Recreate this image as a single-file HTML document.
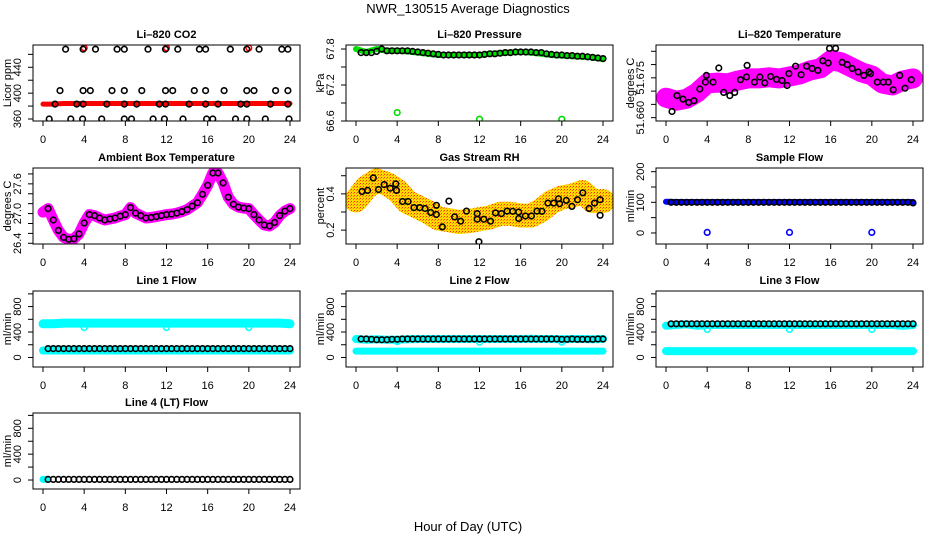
<!DOCTYPE html>
<html><head><meta charset="utf-8"><style>
html,body{margin:0;padding:0;background:#fff;}
svg{display:block;font-family:"Liberation Sans",sans-serif;}
</style></head><body>
<svg id="chart" width="936" height="540" viewBox="0 0 936 540" xmlns="http://www.w3.org/2000/svg">
<defs>
<pattern id="rhpat" width="3" height="3" patternUnits="userSpaceOnUse">
<rect x="0" y="0" width="3" height="3" fill="#ffd800"/><rect x="0" y="0" width="1" height="1" fill="#ff3000"/><rect x="2" y="1" width="1" height="1" fill="#ff8000"/>
</pattern>
</defs>
<rect x="0" y="0" width="936" height="540" fill="#fff"/>
<text x="468" y="13" font-size="13" text-anchor="middle">NWR_130515  Average Diagnostics</text>
<text x="468" y="531" font-size="13" text-anchor="middle">Hour of Day (UTC)</text>
</svg>
<script>
const H25=[0,1,2,3,4,5,6,7,8,9,10,11,12,13,14,15,16,17,18,19,20,21,22,23,24];
const H49=[0,0.5,1,1.5,2,2.5,3,3.5,4,4.5,5,5.5,6,6.5,7,7.5,8,8.5,9,9.5,10,10.5,11,11.5,12,12.5,13,13.5,14,14.5,15,15.5,16,16.5,17,17.5,18,18.5,19,19.5,20,20.5,21,21.5,22,22.5,23,23.5,24];
const HB=[0.5,1,1.5,2,2.5,3,3.5,4,4.5,5,5.5,6,6.5,7,7.5,8,8.5,9,9.5,10,10.5,11,11.5,12,12.5,13,13.5,14,14.5,15,15.5,16,16.5,17,17.5,18,18.5,19,19.5,20,20.5,21,21.5,22,22.5,23,23.5,24];
const xTicks=[0,4,8,12,16,20,24];
const outlierHours=[4,12,20];

// CO2
const co2BlackHours=[2.2,3.9,5.1,7.2,7.9,10.2,11.9,13.1,15.2,15.8,18.2,19.8,21.0,23.2,23.8,
1.65,3.9,4.6,6.7,7.9,9.6,11.9,12.6,14.7,15.8,17.6,19.8,20.5,22.6,23.8,
1.17,3.27,3.9,6.2,7.9,9.1,11.3,11.9,14.2,15.8,17.0,19.2,19.8,22.1,23.8,
0.6,2.7,3.85,5.7,7.9,8.6,10.7,11.8,13.6,15.9,16.5,18.7,19.8,21.6,23.9];
const co2BlackVals=[468,468,468,468,468,468,468,468,468,468,468,468,468,468,468,
404,404,404,404,404,404,404,404,404,404,404,404,404,404,404,
383,383,383,383,383,383,383,383,383,383,383,383,383,383,383,
360,360,360,360,360,360,360,360,360,360,360,360,360,360,360];
const co2RedVals=[383,383,384,384,384,384,384,384,384,384,384,384,384,384,384,384,384,384,384,384,384,384,384,384,384];
const co2RedOutliers=[470,470,470];
const co2Ticks=[360,380,400,420,440,460];
const co2Labels=[360,400,440];

// Pressure
const presGreen=[67.80,67.75,67.80,67.77,67.77,67.76,67.74,67.72,67.70,67.70,67.70,67.70,67.70,67.72,67.73,67.74,67.75,67.74,67.72,67.70,67.69,67.68,67.67,67.66,67.63];
const presBlack=[67.74,67.74,67.74,67.76,67.80,67.77,67.77,67.77,67.77,67.77,67.76,67.75,67.74,67.73,67.72,67.71,67.70,67.70,67.70,67.70,67.70,67.70,67.70,67.70,67.71,67.72,67.72,67.73,67.74,67.74,67.75,67.75,67.75,67.75,67.74,67.74,67.72,67.71,67.70,67.70,67.69,67.69,67.68,67.68,67.67,67.66,67.65,67.64];
const presOutliers=[66.74,66.63,66.63];
const presTicks=[66.6,66.9,67.2,67.5,67.8];
const presLabels=[66.6,67.2,67.8];

// Li-820 temperature
const tempMagenta=[51.6675,51.6664,51.6671,51.6694,51.6729,51.6732,51.6729,51.6740,51.6748,51.6748,51.6752,51.6748,51.6755,51.6763,51.6778,51.6786,51.6816,51.6809,51.6790,51.6771,51.6759,51.6729,51.6721,51.6740,51.6748];
const tempBlackHours=[0.58,1.07,1.65,2.21,2.72,3.28,3.83,3.93,4.57,5.13,5.61,6.20,6.68,7.24,7.82,7.88,8.60,9.12,9.60,10.16,10.74,11.28,11.77,11.94,12.59,13.13,13.66,14.20,14.76,15.24,15.76,15.89,16.48,17.12,17.61,18.09,18.68,19.23,19.72,19.88,20.53,21.11,21.60,22.08,22.71,23.22,23.83];
const tempBlackVals=[51.6623,51.6683,51.6670,51.6657,51.6664,51.6708,51.6734,51.6759,51.6734,51.6787,51.6695,51.6683,51.6695,51.6743,51.6753,51.6797,51.6734,51.6753,51.6731,51.6755,51.6744,51.6740,51.6721,51.6766,51.6794,51.6762,51.6794,51.6785,51.6778,51.6814,51.6806,51.6861,51.6861,51.6808,51.6800,51.6785,51.6772,51.6759,51.6772,51.6766,51.6734,51.6734,51.6734,51.6705,51.6759,51.6711,51.6743];
const tempTicks=[51.660,51.665,51.670,51.675,51.680,51.685];
const tempLabels=[51.660,51.675];

// Ambient box temperature
const ambVals=[27.03,27.10,26.87,26.66,26.52,26.48,26.49,26.59,26.81,26.98,26.96,26.91,26.87,26.89,26.91,26.95,26.98,27.12,27.01,26.96,26.91,26.92,26.94,26.96,26.98,26.99,27.01,27.04,27.08,27.15,27.22,27.39,27.57,27.82,27.82,27.62,27.33,27.19,27.13,27.11,27.10,26.98,26.87,26.77,26.75,26.82,26.96,27.05,27.10];
const ambTicks=[26.4,26.6,26.8,27.0,27.2,27.4,27.6,27.8];
const ambLabels=[26.4,27.0,27.6];

// Gas stream RH
const rhCloud=[0.364,0.436,0.473,0.455,0.418,0.355,0.328,0.300,0.264,0.255,0.245,0.25,0.26,0.27,0.29,0.29,0.28,0.28,0.31,0.355,0.38,0.39,0.41,0.36,0.36];
const rhBlackHours=[0.58,1.13,1.68,2.19,2.74,3.32,3.87,3.94,4.52,5.06,5.64,6.20,6.71,7.26,7.81,7.81,8.39,9.03,9.58,10.16,10.74,11.94,11.78,11.78,12.42,13.07,13.55,14.13,14.68,15.23,15.81,15.81,16.46,17.04,17.59,18.07,18.65,19.20,19.68,19.78,20.43,20.98,21.52,22.04,22.65,23.17,23.72,23.72];
const rhBlackVals=[0.413,0.419,0.488,0.424,0.451,0.431,0.455,0.419,0.358,0.358,0.324,0.324,0.319,0.297,0.337,0.286,0.218,0.360,0.273,0.249,0.305,0.136,0.291,0.260,0.260,0.249,0.295,0.291,0.305,0.304,0.300,0.264,0.278,0.278,0.305,0.304,0.349,0.349,0.373,0.346,0.364,0.331,0.368,0.406,0.319,0.349,0.368,0.282];
const rhTicks=[0.2,0.3,0.4,0.5];
const rhLabels=[0.2,0.4];

// Sample flow
const sampleBlue=[102,101,101,101,101,101,101,101,101,101,101,101,101,101,101,101,101,101,101,101,101,101,101,101,101];
const sampleBlack=[100,100,100,100,100,100,100,100,100,100,100,100,100,100,100,100,100,100,100,100,100,100,100,100,100,100,100,100,100,100,100,100,100,100,100,100,100,100,100,100,100,100,100,100,100,100,100,98];
const sampleOutliers=[2,2,2];
const sampleTicks=[0,50,100,150,200];
const sampleLabels=[0,100,200];

// Line flows
const flowTicks=[0,200,400,600,800,1000];
const flowLabels=[0,400,800];
const line1CyanHigh=[530,530,540,540,540,540,540,540,540,540,540,540,540,540,540,540,540,540,540,540,540,540,540,540,530];
const line1CyanLow=[110,110,110,110,110,110,110,110,110,110,110,110,110,110,110,110,110,110,110,110,110,110,110,110,110];
const line1Outliers=[470,470,470];
const line1Black=[140,140,140,140,140,140,140,140,140,140,140,140,140,140,140,140,140,140,140,140,140,140,140,140,140,140,140,140,140,140,140,140,140,140,140,140,140,140,140,140,140,140,140,140,140,140,140,140];
const line2CyanHigh=[290,280,285,280,280,285,290,290,290,290,290,290,290,290,290,290,290,295,290,290,285,290,290,285,290];
const line2CyanLow=[100,100,100,100,100,100,100,100,100,100,100,100,100,100,100,100,100,100,100,100,100,100,100,100,100];
const line2Outliers=[250,240,240];
const line2Black=[290,290,285,280,280,280,285,285,290,290,290,290,290,290,290,290,290,290,290,290,290,290,290,290,290,290,290,290,290,290,290,290,290,290,290,290,290,290,290,285,285,290,285,285,285,285,290,290];
const line3CyanHigh=[500,510,520,500,510,510,510,510,510,510,510,510,510,510,510,510,510,510,510,510,510,510,510,500,510];
const line3CyanLow=[100,100,100,100,100,100,100,100,100,100,100,100,100,100,100,100,100,100,100,100,100,100,100,100,100];
const line3Outliers=[440,440,440];
const line3Black=[530,530,530,530,530,530,530,530,530,530,530,530,530,530,530,530,530,530,530,530,530,530,530,530,530,530,530,530,530,530,530,530,530,530,530,530,530,530,530,530,530,530,530,530,530,530,530,530];
const line4CyanHours=[0,0.3];
const line4Cyan=[10,10];
const line4Black=[10,10,10,10,10,10,10,10,10,10,10,10,10,10,10,10,10,10,10,10,10,10,10,10,10,10,10,10,10,10,10,10,10,10,10,10,10,10,10,10,10,10,10,10,10,10,10,10];

const NS='http://www.w3.org/2000/svg';
const svg=document.getElementById('chart');
const colLeft=[33,346,656];
const rowTop=[45,168,291,413];
const BW=267, BH=76;

function mk(tag,attrs,parent){
  const e=document.createElementNS(NS,tag);
  for(const k in attrs) e.setAttribute(k,attrs[k]);
  parent.appendChild(e);
  return e;
}

function makePanel(name,col,row,title,ylab,ymin,ymax,ticks,labels,fmt){
  const L=colLeft[col], T=rowTop[row];
  const g=mk('g',{},svg);
  
  
  const sx=h=>L+10+h*(247/24);
  const sy=v=>T+BH-(v-ymin)/(ymax-ymin)*BH;
  const clip=mk('clipPath',{id:name+'-clip'},g);
  mk('rect',{x:L,y:T,width:BW,height:BH},clip);
  const plot=mk('g',{'clip-path':'url(#'+name+'-clip)'},g);
  
  
  const box=mk('rect',{x:L,y:T,width:BW,height:BH,fill:'none',stroke:'#000','stroke-width':1},g);
  
  
  const t=mk('text',{x:L+BW/2,y:T-7,'font-size':11,'font-weight':'bold','text-anchor':'middle'},g);
  t.textContent=title;
  
  
  const xa=mk('g',{},g);
  
  
  mk('line',{x1:sx(0),x2:sx(24),y1:T+BH,y2:T+BH,stroke:'#000'},xa);
  xTicks.forEach(v=>{
    mk('line',{x1:sx(v),x2:sx(v),y1:T+BH,y2:T+BH+5,stroke:'#000'},xa);
    const tl=mk('text',{x:sx(v),y:T+BH+22,'font-size':11,'text-anchor':'middle'},xa);
    tl.textContent=v;
    
    
  });
  const ya=mk('g',{},g);
  
  
  const inR=ticks.filter(v=>sy(v)>=T-0.5&&sy(v)<=T+BH+0.5);
  mk('line',{x1:L,x2:L,y1:sy(inR[0]),y2:sy(inR[inR.length-1]),stroke:'#000'},ya);
  ticks.forEach(v=>{
    const y=sy(v);
    if(y<T-1||y>T+BH+1) return;
    mk('line',{x1:L-5,x2:L,y1:y,y2:y,stroke:'#000'},ya);
  });
  labels.forEach(v=>{
    const y=sy(v), x=L-12;
    const tl=mk('text',{x:x,y:y,'font-size':11,'text-anchor':'middle',transform:'rotate(-90 '+x+' '+y+')'},ya);
    tl.textContent=fmt?fmt(v):v;
    
    
  });
  const yt=mk('text',{x:L-22,y:T+BH/2,'font-size':11,'text-anchor':'middle',transform:'rotate(-90 '+(L-22)+' '+(T+BH/2)+')'},g);
  yt.textContent=ylab;
  
  
  return {sx,sy,plot};
}

function band(p,hours,vals,color,w,name){
  let d='';
  hours.forEach((h,i)=>{d+=(i?'L':'M')+p.sx(h).toFixed(1)+' '+p.sy(vals[i]).toFixed(1);});
  const e=mk('path',{d:d,fill:'none',stroke:color,'stroke-width':w,'stroke-linecap':'round','stroke-linejoin':'round'},p.plot);
  
  
}
function pts(p,hours,vals,color,name,r){
  const g=mk('g',{},p.plot);
  
  
  hours.forEach((h,i)=>{
    const c=mk('circle',{cx:p.sx(h).toFixed(1),cy:p.sy(vals[i]).toFixed(1),r:r||2.8,fill:'none',stroke:color,'stroke-width':1.6},g);
    
    
  });
}

let p=makePanel('co2',0,0,'Li\u2013820 CO2','Licor ppm',356.9,474.5,co2Ticks,co2Labels);
band(p,H25,co2RedVals,'#ff0000',5,'co2-red-band');
pts(p,outlierHours,co2RedOutliers,'#ff0000','co2-red-outliers');
pts(p,co2BlackHours,co2BlackVals,'#000','co2-black-points');

p=makePanel('pressure',1,0,'Li\u2013820 Pressure','kPa',66.6,67.867,presTicks,presLabels,v=>v.toFixed(1));
band(p,H25,presGreen,'#00e000',6,'pressure-green-band');
pts(p,outlierHours,presOutliers,'#00dd00','pressure-green-outliers');
pts(p,HB,presBlack,'#000','pressure-black-points');

p=makePanel('li820-temp',2,0,'Li\u2013820 Temperature','degrees C',51.65874,51.68737,tempTicks,tempLabels,v=>v.toFixed(3));
band(p,H25,tempMagenta,'#ff00ff',20,'temp-magenta-cloud');
pts(p,tempBlackHours,tempBlackVals,'#000','temp-black-points');

p=makePanel('ambient-temp',0,1,'Ambient Box Temperature','degrees C',26.386,27.92,ambTicks,ambLabels,v=>v.toFixed(1));
band(p,H49,ambVals,'#ff00ff',11,'ambient-magenta-band');
pts(p,HB,ambVals.slice(1),'#000','ambient-black-points');

p=makePanel('rh',1,1,'Gas Stream RH','percent',0.1235,0.5426,rhTicks,rhLabels,v=>v.toFixed(1));
band(p,H25,rhCloud,'url(#rhpat)',24,'rh-cloud');
pts(p,rhBlackHours,rhBlackVals,'#000','rh-black-points');

p=makePanel('sample-flow',2,1,'Sample Flow','ml/min',-36,212,sampleTicks,sampleLabels);
band(p,H25,sampleBlue,'#0000ff',6,'sample-blue-band');
pts(p,outlierHours,sampleOutliers,'#0000ff','sample-blue-outliers');
pts(p,HB,sampleBlack,'#000','sample-black-points');

p=makePanel('line1-flow',0,2,'Line 1 Flow','ml/min',-150,1045,flowTicks,flowLabels);
band(p,H25,line1CyanHigh,'#00ffff',9,'line1-cyan-high');
band(p,H25,line1CyanLow,'#00ffff',8,'line1-cyan-low');
pts(p,outlierHours,line1Outliers,'#00ffff','line1-cyan-outliers');
pts(p,HB,line1Black,'#000','line1-black-points');

p=makePanel('line2-flow',1,2,'Line 2 Flow','ml/min',-150,1045,flowTicks,flowLabels);
band(p,H25,line2CyanHigh,'#00ffff',8,'line2-cyan-high');
band(p,H25,line2CyanLow,'#00ffff',7,'line2-cyan-low');
pts(p,outlierHours,line2Outliers,'#00ffff','line2-cyan-outliers');
pts(p,HB,line2Black,'#000','line2-black-points');

p=makePanel('line3-flow',2,2,'Line 3 Flow','ml/min',-150,1045,flowTicks,flowLabels);
band(p,H25,line3CyanHigh,'#00ffff',8,'line3-cyan-high');
band(p,H25,line3CyanLow,'#00ffff',8,'line3-cyan-low');
pts(p,outlierHours,line3Outliers,'#00ffff','line3-cyan-outliers');
pts(p,HB,line3Black,'#000','line3-black-points');

p=makePanel('line4-flow',0,3,'Line 4 (LT) Flow','ml/min',-139,1037,flowTicks,flowLabels);
band(p,line4CyanHours,line4Cyan,'#00ffff',7,'line4-cyan');
pts(p,HB,line4Black,'#000','line4-black-points');
</script>
</body></html>
